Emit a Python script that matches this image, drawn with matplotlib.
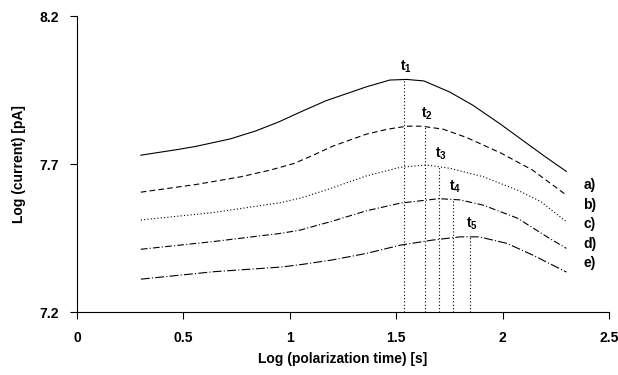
import numpy as np
import matplotlib
matplotlib.use('Agg')
import matplotlib.pyplot as plt

plt.rcParams['font.family'] = ['Liberation Sans', 'DejaVu Sans']
plt.rcParams['mathtext.fontset'] = 'custom'
plt.rcParams['mathtext.bf'] = 'Liberation Sans:bold'
plt.rcParams['mathtext.rm'] = 'Liberation Sans:bold'

# curves: log(polarization time) vs log(current)
xa = [0.30, 0.48, 0.56, 0.72, 0.84, 0.95, 1.05, 1.17, 1.36, 1.47, 1.55, 1.63, 1.75, 1.86, 1.99, 2.11, 2.20, 2.30]
ya = [7.730, 7.750, 7.760, 7.785, 7.812, 7.843, 7.876, 7.914, 7.961, 7.984, 7.986, 7.981, 7.944, 7.899,
      7.835, 7.772, 7.725, 7.675]

xb = [0.30, 0.56, 0.77, 0.91, 1.02, 1.11, 1.20, 1.36, 1.46, 1.55, 1.62, 1.72, 1.83, 1.91, 1.99, 2.14, 2.30]
yb = [7.605, 7.631, 7.657, 7.680, 7.702, 7.730, 7.760, 7.801, 7.818, 7.828, 7.828, 7.818, 7.790, 7.764,
      7.738, 7.680, 7.595]

xc = [0.30, 0.64, 0.96, 1.05, 1.19, 1.36, 1.52, 1.64, 1.75, 1.91, 2.07, 2.18, 2.30]
yc = [7.511, 7.536, 7.570, 7.585, 7.617, 7.660, 7.689, 7.697, 7.686, 7.657, 7.612, 7.573, 7.505]

xd = [0.30, 0.64, 0.96, 1.05, 1.20, 1.36, 1.52, 1.70, 1.80, 1.91, 2.07, 2.22, 2.30]
yd = [7.412, 7.438, 7.466, 7.477, 7.507, 7.542, 7.568, 7.583, 7.579, 7.561, 7.517, 7.449, 7.415]

xe = [0.30, 0.64, 0.96, 1.05, 1.20, 1.36, 1.52, 1.67, 1.80, 1.89, 2.02, 2.14, 2.30]
ye = [7.311, 7.336, 7.352, 7.360, 7.376, 7.398, 7.426, 7.443, 7.454, 7.454, 7.432, 7.393, 7.335]

# maximum positions t1..t5
t_max = [1.537, 1.636, 1.700, 1.767, 1.847]
t_names = ['t_1', 't_2', 't_3', 't_4', 't_5']
curve_names = ['a)', 'b)', 'c)', 'd)', 'e)']

curves = [(xa, ya), (xb, yb), (xc, yc), (xd, yd), (xe, ye)]
styles = ['-', (0, (5, 3)), (0, (1, 2)), (0, (6, 2, 1, 2)), (0, (8, 2, 1, 2))]

fig = plt.figure(figsize=(6.18, 3.75), dpi=100)
ax = fig.add_axes([0.1246, 0.168, 0.8608, 0.789])

for (x, y), ls in zip(curves, styles):
    ax.plot(x, y, color='black', lw=0.8, linestyle=ls)

# dotted lines from the axis up to each curve maximum, with labels
for i, (x, y) in enumerate(curves):
    top = np.interp(t_max[i], x, y)
    ax.plot([t_max[i], t_max[i]], [7.2, top], color='black', lw=0.8, linestyle=(0, (1, 2)))
    ax.text(t_max[i] + 0.01, top + 0.043, r'$\mathbf{' + t_names[i] + '}$', ha='center', va='center',
            fontsize=10, fontweight='bold')

for i, name in enumerate(curve_names):
    ax.text(2.41, 7.629 - i * 0.066, name, ha='center', va='center', fontsize=10, fontweight='bold')

ax.set_xlim(0, 2.5)
ax.set_ylim(7.2, 8.2)
ax.set_xticks([0, 0.5, 1, 1.5, 2, 2.5])
ax.set_xticklabels(['0', '0.5', '1', '1.5', '2', '2.5'])
ax.set_yticks([7.2, 7.7, 8.2])
ax.set_yticklabels(['7.2', '7.7', '8.2'])
ax.spines['top'].set_visible(False)
ax.spines['right'].set_visible(False)
ax.tick_params(axis='both', direction='out', length=5, width=0.8, labelsize=10)
ax.tick_params(axis='y', pad=8)
ax.tick_params(axis='x', pad=9)
for lab in ax.get_xticklabels() + ax.get_yticklabels():
    lab.set_fontweight('bold')
ax.set_xlabel('Log (polarization time) [s]', fontsize=10, fontweight='bold', labelpad=5)
ax.set_ylabel('Log (current) [pA]', fontsize=10, fontweight='bold', labelpad=10)

fig.savefig('out.png', dpi=100)
